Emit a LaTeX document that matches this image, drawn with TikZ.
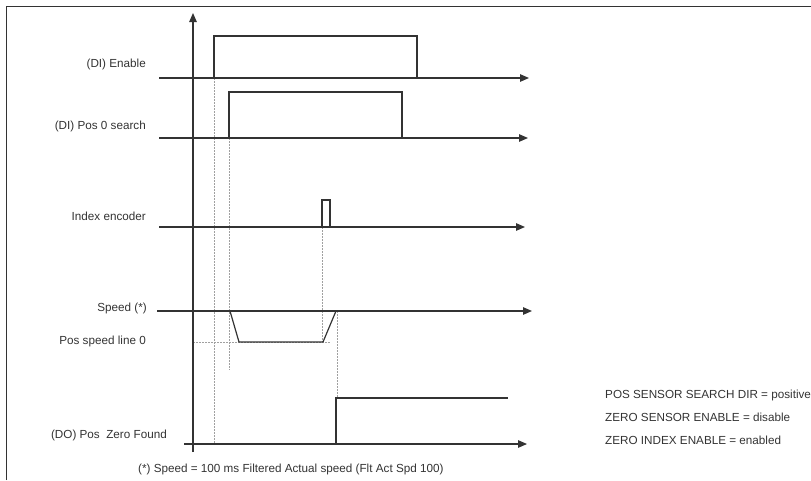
\documentclass[tikz,border=0pt]{standalone}
\usepackage{fontspec}
\setmainfont{Liberation Sans}
\usetikzlibrary{arrows.meta}
\definecolor{ink}{HTML}{333333}
\definecolor{guide}{HTML}{A0A0A0}
\begin{document}
\begin{tikzpicture}[x=1pt,y=-1pt,
  sig/.style={draw=ink,line width=1.2pt},
  axisline/.style={draw=ink,line width=1.2pt,-{Triangle[length=9pt,width=7.5pt]}},
  guideline/.style={draw=guide,line width=0.6pt,dash pattern=on 1.5pt off 1.5pt},
  lbl/.style={anchor=east,text=ink,inner sep=0pt,font=\fontsize{11.7}{13}\selectfont},
  note/.style={anchor=west,text=ink,inner sep=0pt,font=\fontsize{11.7}{13}\selectfont}]
\useasboundingbox (0,0) rectangle (811,480);
\draw[ink,line width=1pt] (6,480) -- (6,6) -- (811,6);
% axes coordinates
\coordinate (vbot) at (193,452); \coordinate (vtop) at (193,13);
\coordinate (e0) at (159,78);  \coordinate (e1) at (529,78);
\coordinate (p0) at (159,138); \coordinate (p1) at (528,138);
\coordinate (i0) at (159,227); \coordinate (i1) at (525,227);
\coordinate (s0) at (157,311); \coordinate (s1) at (532,311);
\coordinate (d0) at (184,444); \coordinate (d1) at (527,444);
% guides
\draw[guideline] (214,78) -- (214,444);
\draw[guideline] (229,138) -- (229,370);
\draw[guideline] (322,227) -- (322,342);
\draw[guideline] (337,311) -- (337,398);
\draw[guideline] (193,342) -- (330,342);
% axes
\draw[axisline] (vbot) -- (vtop);
\draw[axisline] (e0) -- (e1);
\draw[axisline] (p0) -- (p1);
\draw[axisline] (i0) -- (i1);
\draw[axisline] (s0) -- (s1);
\draw[axisline] (d0) -- (d1);
% signals
\draw[sig] (214,78) -- (214,36) -- (417,36) -- (417,78);
\draw[sig] (229,138) -- (229,92) -- (402,92) -- (402,138);
\draw[sig] (322,227) -- (322,200) -- (330,200) -- (330,227);
\draw[sig] (230,311) -- (239,342) -- (323,342) -- (336,311);
\draw[sig] (336,444) -- (336,398) -- (508,398);
% labels
\node[lbl] (lEn) at (146,64) {(DI) Enable};
\node[lbl] (lPs) at (146,126) {(DI) Pos 0 search};
\node[lbl] (lIx) at (146,216) {Index encoder};
\node[lbl] (lSp) at (147,308) {Speed (*)};
\node[lbl] (lPl) at (146,341) {Pos speed line 0};
\node[lbl] (lDo) at (167,435) {(DO) Pos\ \ Zero Found};
\node[note] (fn) at (138,469) {(*) Speed = 100 ms Filtered Actual speed (Flt Act Spd 100)};
\node[note] (n1) at (605,395) {POS SENSOR SEARCH DIR = positive};
\node[note] (n2) at (605,417) {ZERO SENSOR ENABLE = disable};
\node[note] (n3) at (605,440) {ZERO INDEX ENABLE = enabled};
\end{tikzpicture}
\end{document}
